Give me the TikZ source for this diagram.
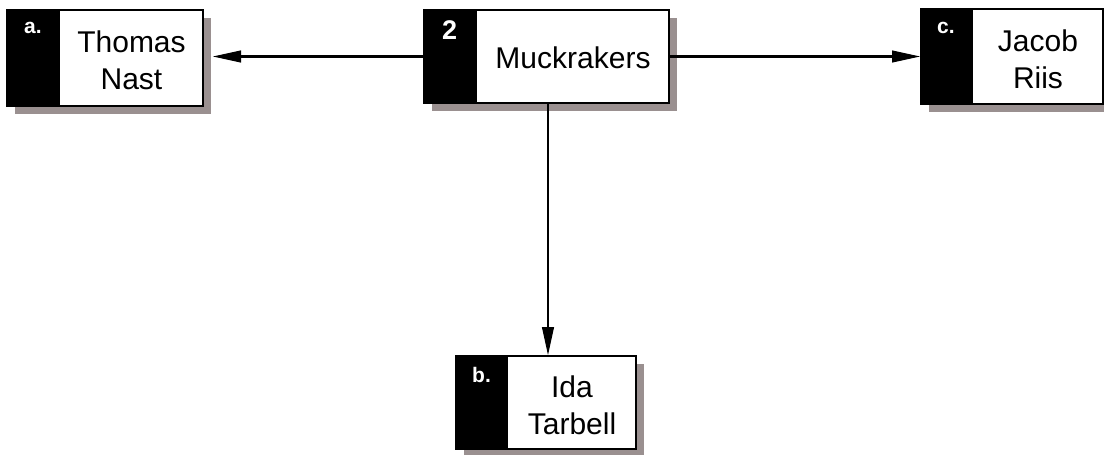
\documentclass[tikz,border=0pt]{standalone}
\usepackage{fontspec}
\setmainfont{Liberation Sans}
\usetikzlibrary{arrows.meta,calc}
\definecolor{shadowgray}{HTML}{9A9090}
\begin{document}
\begin{tikzpicture}[x=1pt,y=-1pt,
  box/.style={draw=black, line width=2pt, fill=white, inner sep=0pt,
    preaction={fill=shadowgray, transform canvas={shift={(8pt,-8pt)}}},
    path picture={\fill[black] (path picture bounding box.north west) rectangle ([xshift=#1]path picture bounding box.south west);}},
  box/.default=53pt,
  txt/.style={font=\fontsize{30}{37}\selectfont, align=center, inner sep=0pt},
  lbl/.style={font=\fontsize{21}{24}\selectfont\bfseries, text=white, anchor=base west, inner sep=0pt},
  arr/.style={line width=2.5pt, -{Triangle[length=28pt, width=12pt, fill=black, line width=1pt]}}
]
\useasboundingbox (0,0) rectangle (1104,455);
% boxes
\node[box, minimum width=196pt, minimum height=96pt] (a) at (105,58) {};
\node[box, minimum width=245pt, minimum height=93pt] (m) at (546.5,56.5) {};
\node[box=52pt, minimum width=182pt, minimum height=95pt] (c) at (1012,56.5) {};
\node[box=52pt, minimum width=180pt, minimum height=93pt] (b) at (546,402.5) {};
% texts
\node[txt] (ta) at (131.5,60) {Thomas\\Nast};
\node[txt] (tm) at (573,58) {Muckrakers};
\node[txt] (tc) at (1038,59) {Jacob\\Riis};
\node[txt] (tb) at (572,405) {Ida\\Tarbell};
% labels
\node[lbl] (la) at ($(a.north west)+(18,25)$) {a.};
\node[lbl, font=\fontsize{27}{30}\selectfont\bfseries] (lm) at ($(m.north west)+(19,30)$) {2};
\node[lbl] (lc) at ($(c.north west)+(17,26)$) {c.};
\node[lbl] (lb) at ($(b.north west)+(17,27)$) {b.};
% connectors
\draw[arr] (m.west) -- ([xshift=9pt]m.west -| a.east);
\draw[arr] (m.east) -- (m.east -| c.west);
\draw[arr] ([xshift=1.5pt]m.south) -- ([xshift=1.5pt]m.south |- b.north);
\end{tikzpicture}
\end{document}
